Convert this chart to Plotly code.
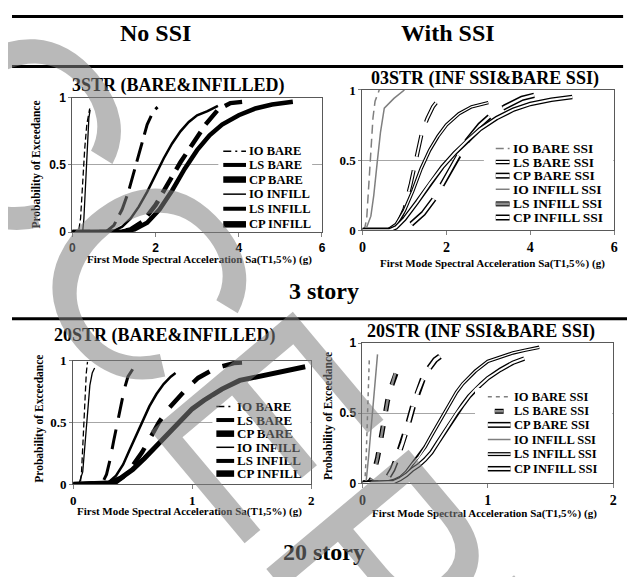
import plotly.graph_objects as go

# page shows the figure with the browser's 8px body margin, so the figure is
# made 8px smaller and all screen positions are shifted by that margin
W, H = 635, 577
OFF = 8
FW, FH = W - OFF, H - OFF
SERIF = "Liberation Serif"
SANS = "Liberation Sans"

# ---------------- data ----------------
# Panel A: 3STR (BARE&INFILLED) - no SSI, x in g
a_io_bare_x = [0, 0.15, 0.2, 0.25, 0.3, 0.35, 0.42]
a_io_bare_y = [0, 0, 0.1, 0.38, 0.62, 0.8, 0.92]
a_io_inf_x = [0, 0.25, 0.28, 0.31, 0.34, 0.37, 0.4, 0.43]
a_io_inf_y = [0, 0, 0.1, 0.3, 0.52, 0.7, 0.85, 0.91]
a_ls_bare_x = [0, 0.8, 1.0, 1.2, 1.35, 1.5, 1.65, 1.8, 1.95, 2.05]
a_ls_bare_y = [0, 0, 0.05, 0.17, 0.3, 0.46, 0.64, 0.8, 0.9, 0.93]
a_ls_inf_x = [0, 0.8, 1.0, 1.2, 1.4, 1.6, 1.8, 2.0, 2.2, 2.4, 2.6, 2.8, 3.0, 3.25, 3.5]
a_ls_inf_y = [0, 0, 0.01, 0.04, 0.1, 0.19, 0.3, 0.43, 0.55, 0.66, 0.75, 0.82, 0.87, 0.9, 0.94]
a_cp_bare_x = [0, 1.1, 1.4, 1.7, 2.0, 2.3, 2.6, 2.9, 3.2, 3.5, 3.8, 4.1]
a_cp_bare_y = [0, 0, 0.02, 0.08, 0.2, 0.36, 0.52, 0.66, 0.8, 0.91, 0.96, 0.97]
a_cp_inf_x = [0, 0.9, 1.2, 1.5, 1.8, 2.1, 2.4, 2.7, 3.0, 3.3, 3.6, 4.0, 4.4, 4.8, 5.3]
a_cp_inf_y = [0, 0, 0.005, 0.02, 0.07, 0.17, 0.31, 0.47, 0.61, 0.72, 0.8, 0.87, 0.92, 0.95, 0.97]

# Panel B: 03STR (INF SSI&BARE SSI)
b_io_bare_x = [0, 0.05, 0.1, 0.15, 0.2, 0.25, 0.3, 0.4]
b_io_bare_y = [0, 0.01, 0.08, 0.35, 0.62, 0.8, 0.92, 1.0]
b_io_inf_x = [0, 0.1, 0.2, 0.27, 0.35, 0.43, 0.52, 0.75, 1.0]
b_io_inf_y = [0, 0.02, 0.1, 0.25, 0.48, 0.7, 0.87, 0.94, 1.0]
b_ls_bare_x = [0, 0.7, 0.85, 1.0, 1.15, 1.3, 1.42, 1.55, 1.68, 1.81]
b_ls_bare_y = [0, 0, 0.05, 0.15, 0.33, 0.55, 0.7, 0.8, 0.88, 0.93]
b_cp_bare_x = [0, 0.8, 1.15, 1.45, 1.7, 1.9, 2.1, 2.3, 2.5, 2.8, 3.1, 3.4, 3.8, 4.2]
b_cp_bare_y = [0, 0, 0.04, 0.12, 0.22, 0.33, 0.44, 0.54, 0.64, 0.75, 0.83, 0.88, 0.94, 0.97]
b_ls_inf_x = [0, 0.6, 0.8, 1.0, 1.2, 1.4, 1.6, 1.8, 2.0, 2.3, 2.6, 3.0]
b_ls_inf_y = [0, 0, 0.04, 0.14, 0.28, 0.44, 0.57, 0.67, 0.75, 0.83, 0.88, 0.91]
b_cp_inf_x = [0, 0.65, 0.8, 1.0, 1.3, 1.6, 1.9, 2.2, 2.5, 2.8, 3.2, 3.6, 4.0, 4.5, 5.0]
b_cp_inf_y = [0, 0, 0.02, 0.08, 0.2, 0.33, 0.45, 0.55, 0.64, 0.72, 0.8, 0.86, 0.9, 0.93, 0.95]

# Panel C: 20STR (BARE&INFILLED)
c_io_bare_x = [0, 0.06, 0.07, 0.08, 0.09, 0.1, 0.11, 0.12]
c_io_bare_y = [0, 0.01, 0.1, 0.3, 0.55, 0.75, 0.9, 0.99]
c_io_inf_x = [0, 0.05, 0.08, 0.1, 0.12, 0.14, 0.16, 0.18]
c_io_inf_y = [0, 0.01, 0.1, 0.35, 0.6, 0.8, 0.9, 0.94]
c_ls_bare_x = [0, 0.25, 0.28, 0.31, 0.34, 0.37, 0.4, 0.43, 0.46, 0.5]
c_ls_bare_y = [0, 0.02, 0.08, 0.2, 0.35, 0.5, 0.64, 0.77, 0.87, 0.93]
c_ls_inf_x = [0, 0.3, 0.36, 0.42, 0.47, 0.52, 0.58, 0.64, 0.7, 0.76, 0.82, 0.86]
c_ls_inf_y = [0, 0.02, 0.07, 0.16, 0.27, 0.38, 0.51, 0.63, 0.73, 0.81, 0.87, 0.9]
c_cp_bare_x = [0, 0.35, 0.42, 0.5, 0.58, 0.65, 0.72, 0.8, 0.88, 0.95, 1.05, 1.2, 1.35, 1.5]
c_cp_bare_y = [0, 0.01, 0.06, 0.15, 0.26, 0.38, 0.5, 0.61, 0.7, 0.77, 0.86, 0.94, 0.98, 0.99]
c_cp_inf_x = [0, 0.3, 0.4, 0.5, 0.6, 0.7, 0.8, 0.9, 1.0, 1.1, 1.25, 1.4, 1.6, 1.8, 1.95]
c_cp_inf_y = [0, 0.01, 0.05, 0.12, 0.21, 0.31, 0.42, 0.52, 0.61, 0.68, 0.77, 0.84, 0.88, 0.92, 0.95]

# Panel D: 20STR (INF SSI&BARE SSI)
d_io_bare_x = [0, 0.02, 0.03, 0.04, 0.05, 0.055]
d_io_bare_y = [0, 0.02, 0.2, 0.5, 0.78, 0.9]
d_io_inf_x = [0, 0.03, 0.05, 0.07, 0.09, 0.11, 0.12]
d_io_inf_y = [0, 0.02, 0.2, 0.42, 0.65, 0.85, 0.92]
d_ls_bare_x = [0, 0.05, 0.08, 0.1, 0.12, 0.14, 0.16, 0.18, 0.2, 0.23, 0.26, 0.29]
d_ls_bare_y = [0, 0, 0.04, 0.1, 0.18, 0.28, 0.4, 0.5, 0.59, 0.69, 0.78, 0.84]
d_cp_bare_x = [0, 0.15, 0.2, 0.24, 0.28, 0.32, 0.36, 0.4, 0.44, 0.48, 0.53, 0.58, 0.64, 0.67]
d_cp_bare_y = [0, 0, 0.04, 0.1, 0.19, 0.29, 0.41, 0.54, 0.65, 0.74, 0.82, 0.88, 0.92, 0.93]
d_ls_inf_x = [0, 0.2, 0.25, 0.3, 0.35, 0.4, 0.45, 0.5, 0.55, 0.6, 0.65, 0.7, 0.75, 0.8, 0.9, 1.0, 1.1, 1.2, 1.3, 1.41]
d_ls_inf_y = [0, 0.01, 0.02, 0.04, 0.08, 0.14, 0.19, 0.26, 0.34, 0.42, 0.5, 0.58, 0.65, 0.71, 0.8, 0.87, 0.9, 0.93, 0.95, 0.97]
d_cp_inf_x = [0, 0.25, 0.3, 0.35, 0.4, 0.45, 0.5, 0.55, 0.6, 0.65, 0.7, 0.75, 0.8, 0.85, 0.9, 0.95, 1.0, 1.05, 1.1, 1.2, 1.29]
d_cp_inf_y = [0, 0.01, 0.03, 0.06, 0.1, 0.13, 0.17, 0.22, 0.29, 0.36, 0.43, 0.5, 0.56, 0.62, 0.67, 0.71, 0.75, 0.78, 0.81, 0.86, 0.89]

panel_titles = ["3STR (BARE&INFILLED)", "03STR (INF SSI&BARE SSI)",
                "20STR (BARE&INFILLED)", "20STR (INF SSI&BARE SSI)"]
labels_noss = ["IO BARE", "LS BARE", "CP BARE", "IO INFILL", "LS INFILL", "CP INFILL"]
labels_ssi = ["IO BARE SSI", "LS BARE SSI", "CP BARE SSI", "IO INFILL SSI", "LS INFILL SSI", "CP INFILL SSI"]
x_title = "First Mode Spectral Acceleration Sa(T1,5%) (g)"
y_title = "Probability of Exceedance"

# ---------------- styles ----------------
K = "black"
G = "#7f7f7f"
WH = "white"


def L(color, width, dash="solid"):
    return dict(color=color, width=width, dash=dash)


panels = [
    dict(
        ax="", box=(69, 322, 93, 231), xr=[0, 6], xd=2, tickfam=SANS, tsize=12, ysans=True,
        series=[
            (a_io_bare_x, a_io_bare_y, [L(K, 1.3, "6px,3px")], [L(K, 1.5, "8px,4px,2px,4px")]),
            (a_ls_bare_x, a_ls_bare_y, [L(K, 3, "20px,8px")], [L(K, 4)]),
            (a_cp_bare_x, a_cp_bare_y, [L(K, 4.5, "18px,9px")], [L(K, 6.5)]),
            (a_io_inf_x, a_io_inf_y, [L(K, 1.3)], [L(K, 1.5)]),
            (a_ls_inf_x, a_ls_inf_y, [L(K, 2.5)], [L(K, 4)]),
            (a_cp_inf_x, a_cp_inf_y, [L(K, 4.5)], [L(K, 6.5)]),
        ],
        labels=labels_noss,
        leg=dict(rows=[148, 162, 177, 192, 207, 223], sx=(222, 245), tx=246, fs=12.5, bg=(217, 312, 139, 229)),
        title=(177, 80), xt=(198, 259), yt=(33, 162),
    ),
    dict(
        ax="2", box=(363, 618, 85, 229), xr=[0, 6], xd=2, tickfam=SERIF, tsize=14, ysans=False,
        series=[
            (b_io_bare_x, b_io_bare_y, [L(G, 1.5, "9px,5px")], [L(G, 1.5, "8px,4px,2px,4px")]),
            (b_ls_bare_x, b_ls_bare_y, [L(K, 4, "22px,14px"), L(WH, 1.8, "22px,14px")], [L(K, 4.5), L(WH, 2)]),
            (b_cp_bare_x, b_cp_bare_y, [L(K, 5.5, "34px,16px"), L(WH, 2.5, "34px,16px")], [L(K, 6), L(WH, 3)]),
            (b_io_inf_x, b_io_inf_y, [L(G, 1.5)], [L(G, 1.5)]),
            (b_ls_inf_x, b_ls_inf_y, [L(K, 3.5), L(WH, 1.3)], [L(K, 5), L("#8c8c8c", 3)]),
            (b_cp_inf_x, b_cp_inf_y, [L(K, 4.5), L(WH, 2)], [L(K, 6), L(WH, 3)]),
        ],
        labels=labels_ssi,
        leg=dict(rows=[145, 159, 173, 187, 202, 216], sx=(498, 512), tx=513, fs=13.5, bg=(486, 617, 137, 227)),
        title=(487, 73), xt=(495, 263), yt=None,
    ),
    dict(
        ax="3", box=(70, 311, 363, 490), xr=[0, 2], xd=1, tickfam=SERIF, tsize=13, ysans=False,
        series=[
            (c_io_bare_x, c_io_bare_y, [L(K, 1.3, "6px,3px")], [L(K, 1.5, "8px,4px,2px,4px")]),
            (c_ls_bare_x, c_ls_bare_y, [L(K, 3, "20px,12px")], [L(K, 4)]),
            (c_cp_bare_x, c_cp_bare_y, [L(K, 4.5, "20px,14px")], [L(K, 6.5)]),
            (c_io_inf_x, c_io_inf_y, [L(K, 1.3)], [L(K, 1.5)]),
            (c_ls_inf_x, c_ls_inf_y, [L(K, 2.5)], [L(K, 4)]),
            (c_cp_inf_x, c_cp_inf_y, [L(K, 5)], [L(K, 6.5)]),
        ],
        labels=labels_noss,
        leg=dict(rows=[410, 424, 438, 452, 466, 479], sx=(215, 233), tx=234, fs=13, bg=(211, 310, 401, 488)),
        title=(163, 337), xt=(188, 518), yt=(35, 423),
    ),
    dict(
        ax="4", box=(363, 617, 345, 489), xr=[0, 2], xd=1, tickfam=SERIF, tsize=14, ysans=True,
        series=[
            (d_io_bare_x, d_io_bare_y, [L(G, 1.5, "4px,4px")], [L(G, 1.5, "4px,4px")]),
            (d_ls_bare_x, d_ls_bare_y, [L(K, 5, "12px,15px"), L("#8c8c8c", 2.5, "12px,15px")], [L(K, 5), L("#8c8c8c", 2.5)]),
            (d_cp_bare_x, d_cp_bare_y, [L(K, 6, "16px,13px"), L(WH, 3, "16px,13px")], [L(K, 6), L(WH, 3)]),
            (d_io_inf_x, d_io_inf_y, [L(G, 1.5)], [L(G, 1.5)]),
            (d_ls_inf_x, d_ls_inf_y, [L(K, 3.5), L(WH, 1.3)], [L(K, 4), L(WH, 1.5)]),
            (d_cp_inf_x, d_cp_inf_y, [L(K, 4.5), L(WH, 2)], [L(K, 5.5), L(WH, 2.5)]),
        ],
        labels=labels_ssi,
        leg=dict(rows=[400, 415, 429, 444, 459, 474], sx=(490, 513), tx=514, fs=12.5, bg=(477, 616, 391, 486)),
        title=(483, 333), xt=(487, 520), yt=(328, 420),
    ),
]


def PX(x):
    return (x - OFF) / FW


def PY(y):
    return 1 - (y - OFF) / FH


fig = go.Figure()
shapes = []
annotations = []
layout_axes = {}

for i, p in enumerate(panels):
    ax = p["ax"]
    x0, x1, y0, y1 = p["box"]
    for (xs, ys, layers, _s) in p["series"]:
        for st in layers:
            fig.add_trace(go.Scatter(x=xs, y=ys, mode="lines", line=st, showlegend=False,
                                     hoverinfo="skip", xaxis="x" + ax, yaxis="y" + ax))
    tf = dict(family=p["tickfam"], size=p["tsize"], color="black", weight="bold")
    ytf = dict(family=SANS if p["ysans"] else SERIF, size=12 if p["ysans"] else 13, color="black", weight="bold")
    layout_axes["xaxis" + ax] = dict(
        domain=[PX(x0), PX(x1)], range=p["xr"], dtick=p["xd"], tick0=0, anchor="y" + ax,
        showline=True, linecolor="#595959", linewidth=1, mirror=True, showgrid=False, zeroline=False,
        ticks="outside", ticklen=4, tickcolor="#808080", tickfont=tf, fixedrange=True)
    layout_axes["yaxis" + ax] = dict(
        domain=[PY(y1), PY(y0)], range=[0, 1], tickvals=[0, 0.5, 1], ticktext=["0", "0.5", "1"],
        anchor="x" + ax, showline=True, linecolor="#595959", linewidth=1, mirror=True,
        showgrid=True, gridcolor="#a6a6a6", gridwidth=1, zeroline=False,
        ticks="outside", ticklen=3, tickcolor="#808080", tickfont=ytf, fixedrange=True)

    tx, ty = p["title"]
    annotations.append(dict(text=panel_titles[i], x=PX(tx), y=PY(ty), xref="paper", yref="paper",
                            showarrow=False, xanchor="center", yanchor="middle",
                            font=dict(family=SERIF, size=18, color="black", weight="bold")))
    xx, xy = p["xt"]
    annotations.append(dict(text=x_title, x=PX(xx), y=PY(xy), xref="paper", yref="paper",
                            showarrow=False, xanchor="center", yanchor="middle",
                            font=dict(family=SERIF, size=11, color="black", weight="bold")))
    if p["yt"] is not None:
        yx, yy = p["yt"]
        annotations.append(dict(text=y_title, x=PX(yx), y=PY(yy), xref="paper", yref="paper",
                                showarrow=False, xanchor="center", yanchor="middle", textangle=-90,
                                font=dict(family=SERIF, size=11.5, color="black", weight="bold")))

    lg = p["leg"]
    bx0, bx1, by0, by1 = lg["bg"]
    shapes.append(dict(type="rect", xref="paper", yref="paper", x0=PX(bx0), x1=PX(bx1),
                       y0=PY(by1), y1=PY(by0), fillcolor="white", line=dict(width=0), layer="above"))
    sx0, sx1 = lg["sx"]
    for k, (xs, ys, layers, sample) in enumerate(p["series"]):
        ry = lg["rows"][k]
        a0, a1 = sx0, sx1
        if p["ax"] == "4" and k == 1:
            a0, a1 = sx0 + 7, sx0 + 16
        for st in sample:
            shapes.append(dict(type="line", xref="paper", yref="paper", x0=PX(a0), x1=PX(a1),
                               y0=PY(ry), y1=PY(ry), line=st, layer="above"))
        annotations.append(dict(text=p["labels"][k], x=PX(lg["tx"]), y=PY(ry), xref="paper", yref="paper",
                                showarrow=False, xanchor="left", yanchor="middle",
                                font=dict(family=SERIF, size=lg["fs"], color="black", weight="bold")))

for txt, cx, cy in [("No SSI", 153, 26), ("With SSI", 450, 26), ("3 story", 324, 291), ("20 story", 324, 560)]:
    annotations.append(dict(text=txt, x=PX(cx), y=PY(cy), xref="paper", yref="paper", showarrow=False,
                            xanchor="center", yanchor="middle",
                            font=dict(family=SERIF, size=24, color="black", weight="bold")))
for (lx0, lx1, ly) in [(8, 627, 9.5), (8, 627, 61), (8, 635, 320)]:
    shapes.append(dict(type="line", xref="paper", yref="paper", x0=PX(lx0), x1=PX(lx1),
                       y0=PY(ly), y1=PY(ly), line=dict(color="black", width=3), layer="above"))

# watermark
annotations.append(dict(text="ACCEPTED", x=PX(314), y=PY(486), xref="paper", yref="paper",
                        showarrow=False, xanchor="center", yanchor="middle", textangle=50,
                        font=dict(family=SANS, size=270, color="rgba(128,128,128,0.55)")))

fig.update_layout(
    width=FW, height=FH, margin=dict(l=0, r=0, t=0, b=0),
    paper_bgcolor="white", plot_bgcolor="white", showlegend=False,
    shapes=shapes, annotations=annotations, **layout_axes)

fig.write_html("out.html")
